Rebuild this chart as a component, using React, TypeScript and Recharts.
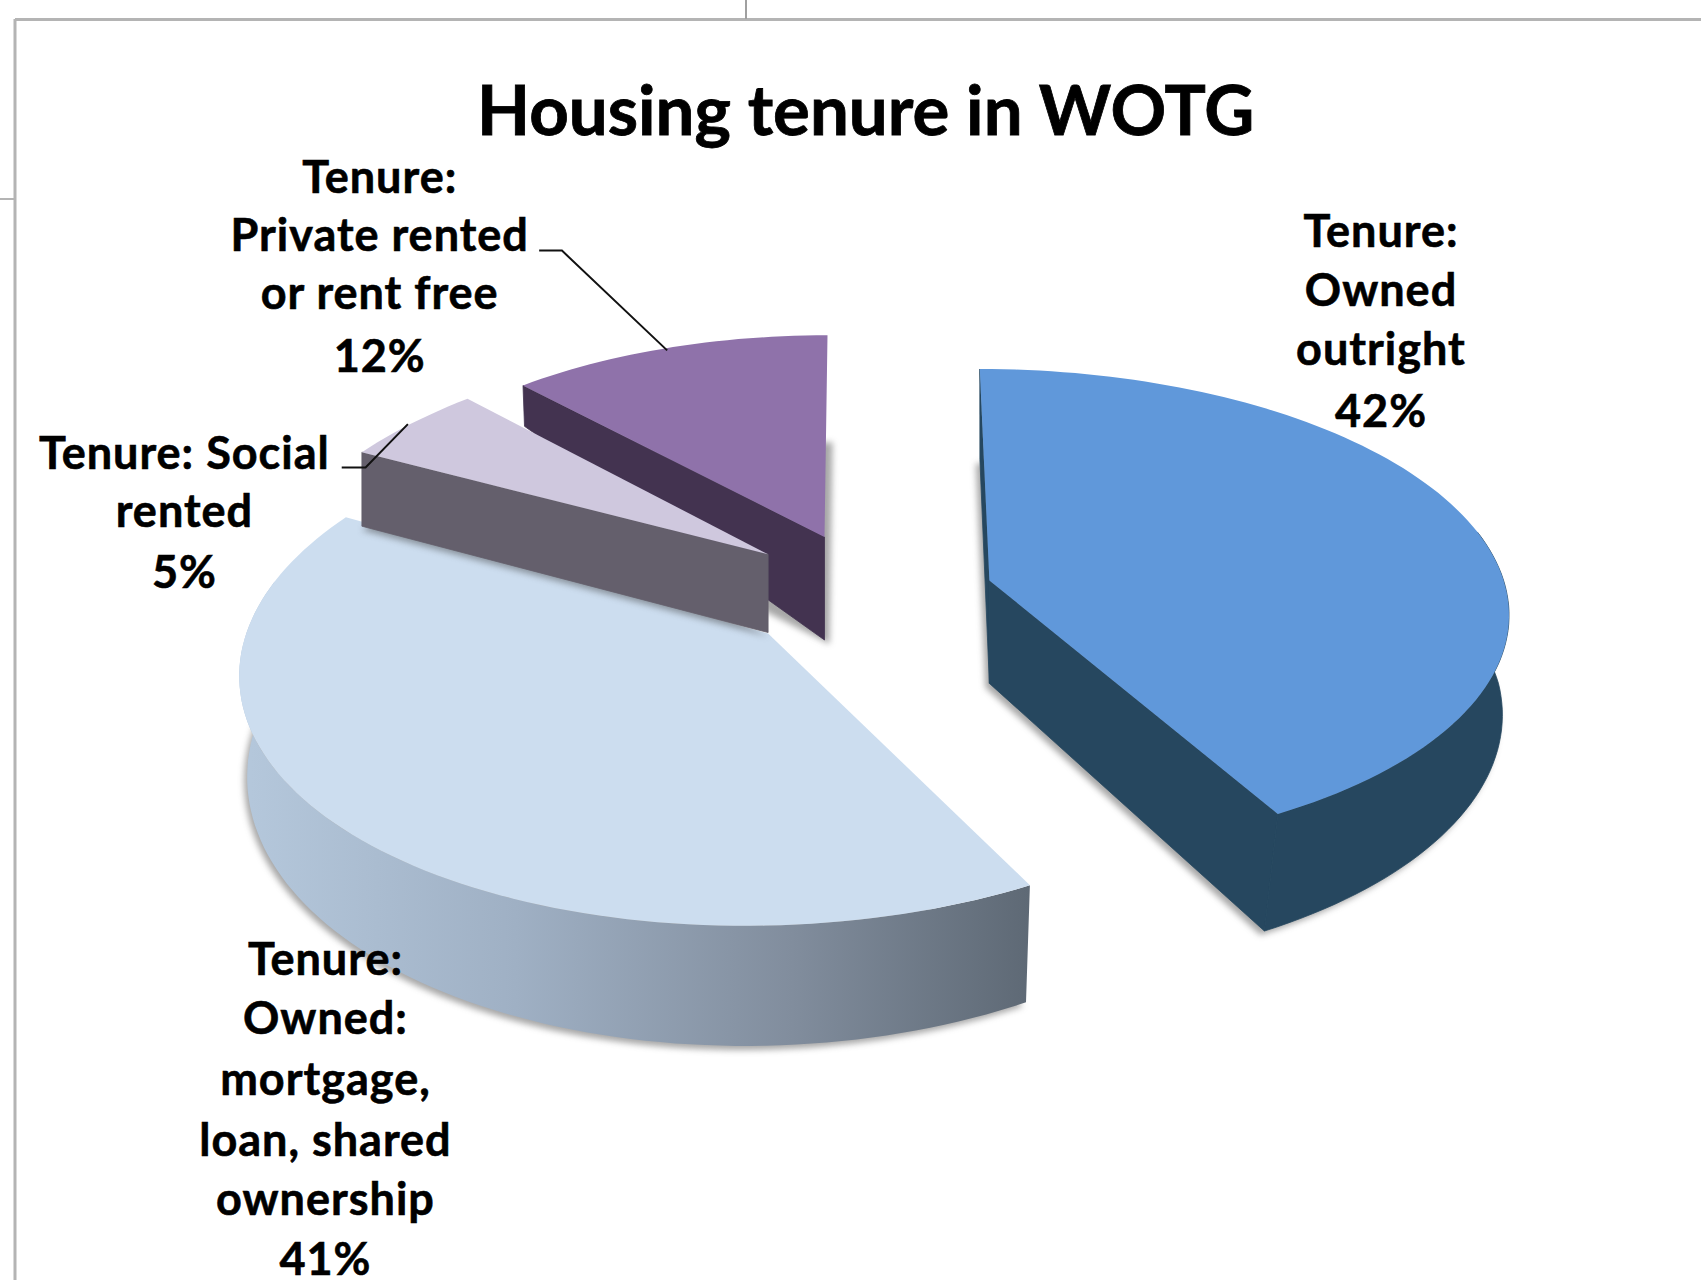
import React from 'react';
import { PieChart, Pie } from 'recharts';

const K = 1701 / 1568;
const W = 1701;
const H = 1280;

const titleText = 'Housing tenure in WOTG';
// Drawing order is back to front, clockwise round the pie
const categories = [
  'Private rented or rent free',
  'Owned outright',
  'Owned: mortgage, loan, shared ownership',
  'Social rented',
];
const shares = [12, 42, 41, 5];
const labelLines = [
  ['Tenure:', 'Private rented', 'or rent free', '12%'],
  ['Tenure:', 'Owned', 'outright', '42%'],
  ['Tenure:', 'Owned:', 'mortgage,', 'loan, shared', 'ownership', '41%'],
  ['Tenure: Social', 'rented', '5%'],
];
const data = categories.map((name, i) => ({ name, value: shares[i] }));

// layout/style for each slice (units: shrunk reference pixels)
const looks = [
  { ox: -24, oy: -95, rx: 446, ry: 209, sh: -0.015, vs: 0, bx: 0.995, bs: 0, k: 1.41, sk: 1, d: 95, sdx: 5, hideEnd: true, top: '#8f72aa', wall: '#433350', side: '#433350' },
  { ox: 128, oy: -55, rx: 474, ry: 219, sh: 0.045, vs: 0, bx: 0.99, bs: -0.045, k: 1.06, sk: 1.06, d: 95, sdx: -4, hideEnd: false, top: '#6098da', wall: '#26475f', side: '#26475f' },
  { ox: -76, oy: -6, rx: 481, ry: 236, sh: -0.08, vs: 0, bx: 0.985, bs: 0, k: 1.077, sk: 1.077, d: 90, sdx: -3, hideEnd: false, top: '#ccddef', wall: 'url(#lbWall)', side: '#5f6a76' },
  { ox: -76, oy: -79, rx: 465, ry: 222, sh: -0.1, vs: -0.018, bx: 1, bs: 0, k: 1.04, sk: 1.04, d: 72, sdx: 0, hideEnd: false, top: '#cfc8de', wall: '#645f6c', side: '#645f6c' },
];
const labelLooks = [
  { x: 350, y: 178, step: [0, 53, 107, 165], leader: [[497, 231], [518, 231], [615, 323]] },
  { x: 1273, y: 228, step: [0, 54, 108, 166], leader: [] },
  { x: 300, y: 899, step: [0, 54, 110, 167, 221, 276], leader: [] },
  { x: 170, y: 432, step: [0, 54, 110], leader: [[315, 431], [337, 431], [376, 391]] },
];
const PERSP = 0.124;
const FONT = 'Lato, Carlito, sans-serif';

type Pt = [number, number];

function project(look: any, theta: number, unit: number): Pt {
  const rad = (theta * Math.PI) / 180;
  const u = Math.sin(rad);
  const v = -Math.cos(rad);
  const s = 1 / (1 - PERSP * v);
  const y0 = v * look.ry * s * unit;
  const x0 = u * look.rx * s * unit + look.sh * y0;
  return [x0, y0 + look.vs * x0];
}

const toD = (pts: Pt[]) => 'M' + pts.map((p) => `${p[0].toFixed(1)},${p[1].toFixed(1)}`).join('L') + 'Z';

function Slice3D(props: any) {
  const { cx, cy, outerRadius, startAngle, endAngle, payload, name } = props;
  const idx = categories.indexOf(payload?.name ?? name);
  const look = looks[idx];
  const unit = outerRadius / 480;
  const a0 = 90 - startAngle;
  const a1 = 90 - endAngle;
  const ax = cx + look.ox * K;
  const ay = cy + look.oy * K;
  const top = (p: Pt): Pt => [ax + p[0], ay + p[1]];
  const bot = (p: Pt, k: number = look.k): Pt => [
    ax + look.bx * p[0] + (p[1] > 0 ? look.bs * p[1] : 0),
    ay + look.d * K + k * p[1],
  ];
  const arc = (from: number, to: number): Pt[] => {
    const out: Pt[] = [];
    const n = Math.max(2, Math.ceil(Math.abs(to - from) / 1.5));
    for (let i = 0; i <= n; i++) out.push(project(look, from + ((to - from) * i) / n, unit));
    return out;
  };
  const rim = arc(a0, a1);
  const topFace = [[0, 0] as Pt, ...rim].map(top);
  const shadowFace = [[0, 0] as Pt, ...rim].map((p) => bot(p, look.sk));
  const first = rim[0];
  const last = rim[rim.length - 1];
  const face = (p: Pt) => [top([0, 0]), top(p), bot(p), bot([0, 0])];
  const lo = Math.max(a0, 78);
  const hi = Math.min(a1, 282);
  const wallPts = hi > lo ? arc(lo, hi) : [];
  const solid = !String(look.wall).startsWith('url');
  return (
    <g>
      <path d={toD(shadowFace.map((p) => [p[0] + look.sdx, p[1] + 4] as Pt))} fill="rgba(60,60,60,0.45)" style={{ filter: 'blur(3px)' }} />
      {first[0] < 0 && <path d={toD(face(first))} fill={look.side} stroke={look.side} strokeWidth={0.8} />}
      {last[0] > 0 && !look.hideEnd && <path d={toD(face(last))} fill={look.side} stroke={look.side} strokeWidth={0.8} />}
      {wallPts.length > 0 && (
        <path
          d={toD([...wallPts.map(top), ...wallPts.map((p) => bot(p)).reverse()])}
          fill={look.wall}
          stroke={solid ? look.side : 'none'}
          strokeWidth={0.8}
        />
      )}
      <path d={toD(topFace)} fill={look.top} />
    </g>
  );
}

function SliceLabel(props: any) {
  const idx = categories.indexOf(props.payload?.name ?? props.name);
  const look = labelLooks[idx];
  return (
    <g>
      {look.leader.length > 0 && (
        <polyline
          points={look.leader.map((p) => `${p[0] * K},${p[1] * K}`).join(' ')}
          fill="none"
          stroke="#111"
          strokeWidth={2}
        />
      )}
      {labelLines[idx].map((line, i) => (
        <text
          key={i}
          x={look.x * K}
          y={(look.y + look.step[i]) * K}
          textAnchor="middle"
          fontFamily={FONT}
          fontWeight={700}
          fontSize={45}
          letterSpacing={1}
          stroke="#000"
          strokeWidth={0.6}
          fill="#000"
        >
          {line}
        </text>
      ))}
    </g>
  );
}

export default function App() {
  return (
    <div style={{ position: 'absolute', left: 0, top: 0, width: W, height: H, background: '#fff' }}>
      <PieChart width={W} height={H} margin={{ top: 0, right: 0, bottom: 0, left: 0 }}>
        <defs>
          <linearGradient id="lbWall" x1="0" y1="0" x2="1" y2="0">
            <stop offset="0" stopColor="#b5c8dc" />
            <stop offset="0.35" stopColor="#9fb0c4" />
            <stop offset="0.7" stopColor="#818d9d" />
            <stop offset="1" stopColor="#5e6975" />
          </linearGradient>
        </defs>
        <line x1={15} y1={19.5} x2={W} y2={19.5} stroke="#b4b4b4" strokeWidth={3} />
        <line x1={15} y1={19} x2={15} y2={H} stroke="#b4b4b4" strokeWidth={3} />
        <line x1={746} y1={0} x2={746} y2={19} stroke="#a0a0a0" strokeWidth={2} />
        <line x1={0} y1={199} x2={15} y2={199} stroke="#b4b4b4" strokeWidth={2} />
        <text x={798 * K} y={124 * K} textAnchor="middle" fontFamily={FONT} fontWeight={700} fontSize={69} stroke="#000" strokeWidth={0.8} fill="#000">
          {titleText}
        </text>
        <Pie
          data={data}
          dataKey="value"
          nameKey="name"
          cx={784 * K}
          cy={590 * K}
          outerRadius={480 * K}
          startAngle={133.2}
          endAngle={-226.8}
          stroke="none"
          isAnimationActive={false}
          shape={Slice3D}
          label={SliceLabel}
          labelLine={false}
        />
      </PieChart>
    </div>
  );
}
